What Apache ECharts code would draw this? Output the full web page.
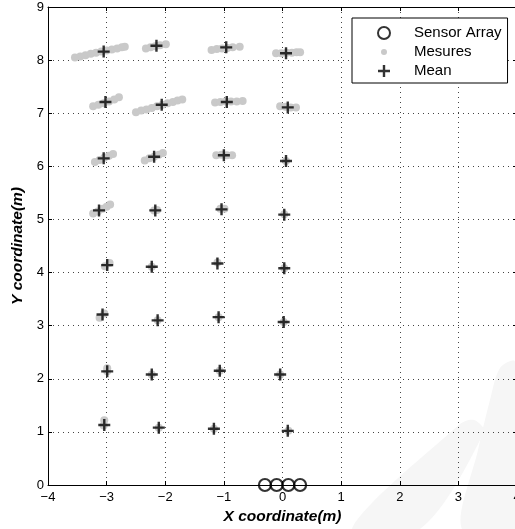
<!DOCTYPE html>
<html>
<head>
<meta charset="utf-8">
<script src="https://cdn.jsdelivr.net/npm/echarts@6/dist/echarts.min.js"></script>
<style>
html,body{margin:0;padding:0;background:#fff;}
#c{width:515px;height:529px;}
</style>
</head>
<body>
<div id="c"></div>
<script>
// ---- data ----
var xTicks = [-4, -3, -2, -1, 0, 1, 2, 3, 4];
var yTicks = [0, 1, 2, 3, 4, 5, 6, 7, 8, 9];

var sensorArray = [[-0.3, 0], [-0.1, 0], [0.1, 0], [0.3, 0]];

var meanPoints = [
  [-3.05, 8.16], [-2.15, 8.27], [-0.96, 8.24], [0.06, 8.13],
  [-3.02, 7.21], [-2.06, 7.16], [-0.95, 7.21], [0.09, 7.11],
  [-3.05, 6.15], [-2.19, 6.18], [-1.00, 6.21], [0.06, 6.10],
  [-3.13, 5.17], [-2.17, 5.17], [-1.04, 5.19], [0.03, 5.09],
  [-2.99, 4.14], [-2.23, 4.11], [-1.11, 4.17], [0.03, 4.08],
  [-3.07, 3.21], [-2.13, 3.10], [-1.09, 3.16], [0.02, 3.07],
  [-2.99, 2.14], [-2.23, 2.08], [-1.07, 2.15], [-0.04, 2.08],
  [-3.04, 1.13], [-2.11, 1.08], [-1.17, 1.06], [0.09, 1.02]
];

var measures = [
  // row 8
  [-3.54, 8.05], [-3.45, 8.07], [-3.36, 8.09], [-3.27, 8.12], [-3.18, 8.14], [-3.09, 8.16],
  [-3.00, 8.18], [-2.91, 8.20], [-2.82, 8.22], [-2.74, 8.24], [-2.69, 8.25],
  [-2.33, 8.22], [-2.25, 8.24], [-2.17, 8.26], [-2.09, 8.28], [-1.99, 8.30],
  [-1.21, 8.19], [-1.12, 8.21], [-1.03, 8.22], [-0.94, 8.23], [-0.85, 8.24], [-0.73, 8.25],
  [-0.11, 8.13], [-0.02, 8.13], [0.07, 8.14], [0.16, 8.14], [0.24, 8.15], [0.30, 8.15],
  // row 7
  [-3.23, 7.13], [-3.14, 7.16], [-3.05, 7.19], [-2.96, 7.22], [-2.87, 7.26], [-2.79, 7.30],
  [-2.50, 7.02], [-2.41, 7.05], [-2.32, 7.07], [-2.23, 7.10], [-2.14, 7.13], [-2.05, 7.16],
  [-1.96, 7.19], [-1.87, 7.21], [-1.79, 7.24], [-1.71, 7.26],
  [-1.15, 7.20], [-1.06, 7.21], [-0.97, 7.22], [-0.88, 7.22], [-0.78, 7.22], [-0.68, 7.23],
  [-0.04, 7.13], [0.05, 7.12], [0.14, 7.11], [0.23, 7.11],
  // row 6
  [-3.20, 6.08], [-3.12, 6.12], [-3.04, 6.16], [-2.96, 6.20], [-2.89, 6.23],
  [-2.35, 6.11], [-2.27, 6.15], [-2.19, 6.18], [-2.11, 6.22], [-2.04, 6.25],
  [-1.13, 6.21], [-1.04, 6.22], [-0.95, 6.21], [-0.86, 6.21],
  [0.06, 6.10],
  // row 5
  [-3.23, 5.11], [-3.15, 5.15], [-3.07, 5.20], [-3.00, 5.24], [-2.94, 5.28],
  [-2.19, 5.17], [-2.14, 5.18],
  [-1.06, 5.20], [-0.99, 5.20],
  [0.03, 5.10],
  // row 4
  [-3.03, 4.12], [-2.95, 4.18],
  [-2.23, 4.11], [-1.11, 4.19], [0.03, 4.08],
  // row 3
  [-3.12, 3.15], [-3.04, 3.23],
  [-2.13, 3.10], [-1.09, 3.16], [0.02, 3.07],
  // row 2
  [-2.99, 2.20], [-2.99, 2.14],
  [-2.23, 2.08], [-1.07, 2.15], [-0.04, 2.08],
  // row 1
  [-3.04, 1.22], [-3.05, 1.12],
  [-2.11, 1.08], [-1.17, 1.06], [0.10, 1.02]
];

var seriesNames = ['Sensor Array', 'Mesures', 'Mean'];

// ---- chart ----
var PLUS = 'path://M4.8,0H7.2V4.8H12V7.2H7.2V12H4.8V7.2H0V4.8H4.8Z';
var DOT_ICON = 'path://M0,0M12,12M3,6A3,3,0,1,1,9,6A3,3,0,1,1,3,6Z';
var FONT = '"Liberation Sans", Arial, Helvetica, sans-serif';

function fmt(v) { return String(v).replace('-', '\u2212'); }

var splitStyle = { show: true, lineStyle: { color: '#444', width: 1, type: [1, 4] } };
var lineBlack = { show: true, onZero: false, lineStyle: { color: '#000', width: 1 } };

var chart = echarts.init(document.getElementById('c'), null, { renderer: 'canvas' });
chart.setOption({
  animation: false,
  backgroundColor: '#fff',
  graphic: [
    { type: 'polygon', z: -10, silent: true,
      shape: { points: [[352, 529], [420, 529], [484, 432], [474, 420], [460, 424]], smooth: 0.3 },
      style: { fill: '#f6f6f6' } },
    { type: 'polygon', z: -10, silent: true,
      shape: { points: [[462, 529], [515, 529], [515, 362], [500, 368], [490, 400], [478, 450]], smooth: 0.3 },
      style: { fill: '#f6f6f6' } }
  ],
  grid: { left: 48, top: 7, right: -2, bottom: 44, containLabel: false, outerBoundsMode: 'none' },
  legend: {
    orient: 'vertical',
    left: 352, top: 18,
    padding: [6, 6, 3, 25],
    itemWidth: 12, itemHeight: 12, itemGap: 1,
    backgroundColor: '#fff',
    borderColor: '#000', borderWidth: 1, borderRadius: 0,
    textStyle: { fontFamily: FONT, fontSize: 15, color: '#000', lineHeight: 18, padding: [0, 0, 0, 19] },
    data: [
      { name: seriesNames[0] },
      { name: seriesNames[1], icon: DOT_ICON },
      { name: seriesNames[2] }
    ]
  },
  xAxis: [{
    type: 'value', min: xTicks[0], max: xTicks[xTicks.length - 1], interval: 1,
    position: 'bottom',
    name: 'X coordinate(m)', nameLocation: 'middle', nameGap: 24,
    nameTextStyle: { fontFamily: FONT, fontSize: 15.5, fontWeight: 'bold', fontStyle: 'italic', color: '#000' },
    axisLine: lineBlack,
    axisTick: { show: true, inside: true, length: 4, lineStyle: { color: '#000' } },
    axisLabel: { fontFamily: FONT, fontSize: 13, color: '#000', margin: 6, formatter: fmt, showMaxLabel: true, showMinLabel: true },
    splitLine: splitStyle
  }, {
    type: 'value', min: xTicks[0], max: xTicks[xTicks.length - 1], interval: 1,
    position: 'top',
    axisLine: lineBlack,
    axisTick: { show: true, inside: true, length: 4, lineStyle: { color: '#000' } },
    axisLabel: { show: false },
    splitLine: { show: false }
  }],
  yAxis: [{
    type: 'value', min: yTicks[0], max: yTicks[yTicks.length - 1], interval: 1,
    position: 'left',
    name: 'Y coordinate(m)', nameLocation: 'middle', nameGap: 21,
    nameTextStyle: { fontFamily: FONT, fontSize: 15.5, fontWeight: 'bold', fontStyle: 'italic', color: '#000' },
    axisLine: lineBlack,
    axisTick: { show: true, inside: true, length: 4, lineStyle: { color: '#000' } },
    axisLabel: { fontFamily: FONT, fontSize: 13, color: '#000', margin: 4, formatter: fmt },
    splitLine: splitStyle
  }, {
    type: 'value', min: yTicks[0], max: yTicks[yTicks.length - 1], interval: 1,
    position: 'right',
    axisLine: lineBlack,
    axisTick: { show: true, inside: true, length: 4, lineStyle: { color: '#000' } },
    axisLabel: { show: false },
    splitLine: { show: false }
  }],
  series: [{
    name: seriesNames[1], type: 'scatter', data: measures,
    symbol: 'circle', symbolSize: 8, clip: false, z: 2,
    itemStyle: { color: '#c9c9c9', opacity: 1 }
  }, {
    name: seriesNames[0], type: 'scatter', data: sensorArray,
    symbol: 'circle', symbolSize: 12, clip: false, z: 4,
    itemStyle: { color: 'rgba(255,255,255,0)', borderColor: '#000', borderWidth: 2.2 }
  }, {
    name: seriesNames[2], type: 'scatter', data: meanPoints,
    symbol: PLUS, symbolSize: 12, clip: false, z: 3,
    itemStyle: { color: '#000' }
  }]
});
</script>
</body>
</html>
